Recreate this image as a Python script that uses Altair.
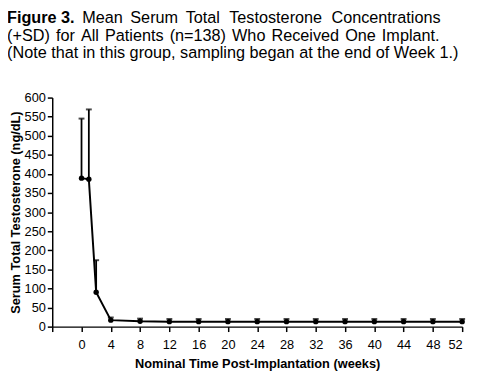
import altair as alt
import pandas as pd

weeks = [0, 1, 2, 4, 8, 12, 16, 20, 24, 28, 32, 36, 40, 44, 48, 52]
mean_t = [389, 386, 90, 17, 14, 13, 13, 13, 13, 13, 13, 13, 13, 13, 13, 13]
sd_top = [545, 569, 174, 24, 21, 20, 20, 20, 20, 20, 20, 20, 20, 20, 20, 20]

x_ticks = [-4, 0, 4, 8, 12, 16, 20, 24, 28, 32, 36, 40, 44, 48, 52]
y_ticks = [0, 50, 100, 150, 200, 250, 300, 350, 400, 450, 500, 550, 600]

# title words (the first two lines are justified in the original)
line1_words = ["Figure 3.", "Mean", "Serum", "Total", "Testosterone", "Concentrations"]
line2_words = ["(+SD)", "for", "All", "Patients", "(n=138)", "Who", "Received", "One", "Implant."]
line3_text = "(Note that in this group, sampling began at the end of Week 1.)"

df = pd.DataFrame({"week": weeks, "mean": mean_t, "top": sd_top})

FONT = "Liberation Sans"
FS = 16.5

# approximate Arial/Liberation Sans advance widths (per 1000 em)
REG = {" ": 278, "(": 333, ")": 333, "+": 584, "=": 584, ".": 278, "1": 556, "3": 556,
       "8": 556, "A": 667, "C": 722, "D": 722, "I": 278, "M": 833, "O": 778, "P": 667,
       "R": 722, "S": 667, "T": 611, "W": 944, "a": 556, "c": 500, "d": 556, "e": 556,
       "f": 278, "i": 222, "l": 222, "m": 833, "n": 556, "o": 556, "p": 556, "r": 333,
       "s": 500, "t": 278, "u": 556, "v": 500, "h": 556, "g": 556}
BOLD = {"F": 611, "i": 278, "g": 611, "u": 611, "r": 389, "e": 556, " ": 278, "3": 556, ".": 278}


def width(s, bold=False):
    tbl = BOLD if bold else REG
    return sum(tbl.get(c, 556) for c in s) * FS / 1000.0


def justify(words, x0, x1, bold_first=False):
    ws = [width(w, bold=(bold_first and i == 0)) for i, w in enumerate(words)]
    gap = (x1 - x0 - sum(ws)) / (len(words) - 1)
    xs_, x = [], x0
    for w in ws:
        xs_.append(x)
        x += w + gap
    return xs_


xs = alt.Scale(domain=[-4, 52], nice=False, zero=False)
ys = alt.Scale(domain=[0, 600], nice=False)

base = alt.Chart(df)

x_axis = alt.Axis(
    values=x_ticks, title="Nominal Time Post-Implantation (weeks)",
    labelExpr="datum.value < 0 ? '' : datum.label", labelOverlap=False,
    tickSize=5, labelPadding=7, titlePadding=7,
)
y_axis = alt.Axis(
    values=y_ticks, title="Serum Total Testosterone (ng/dL)", labelOverlap=False,
    tickSize=5, labelPadding=2, titlePadding=2,
)

X = alt.X("week:Q", scale=xs, axis=x_axis)
Y = alt.Y("mean:Q", scale=ys, axis=y_axis)

err = base.mark_rule(color="black", strokeWidth=1.8).encode(x=X, y=Y, y2="top:Q")
cap = base.mark_tick(color="black", thickness=2, size=6, orient="horizontal").encode(
    x=X, y=alt.Y("top:Q", scale=ys, axis=y_axis))
line = base.mark_line(color="black", strokeWidth=2).encode(x=X, y=Y)
pts = base.mark_circle(color="black", size=30, opacity=1).encode(x=X, y=Y)

PLOT_LEFT = 53
PLOT_TOP = 96


def txt(s, x_page, y_page, bold=False):
    return alt.Chart(pd.DataFrame({"t": [s]})).mark_text(
        align="left", baseline="alphabetic", font=FONT, fontSize=FS,
        fontWeight="bold" if bold else "normal", color="black",
    ).encode(text="t:N", x=alt.value(x_page - PLOT_LEFT), y=alt.value(y_page - PLOT_TOP))


l1_x = justify(line1_words, 7, 448, bold_first=True)
l2_x = justify(line2_words, 7, 447)

texts = []
for i, w in enumerate(line1_words):
    texts.append(txt(w, l1_x[i], 20, bold=(i == 0)))
for i, w in enumerate(line2_words):
    texts.append(txt(w, l2_x[i], 38))
texts.append(txt(line3_text, 7, 56))

chart = alt.layer(err, cap, line, pts, *texts).properties(
    width=417, height=233,
    background="white",
    autosize=alt.AutoSizeParams(type="none"),
    padding={"left": 45, "top": 88, "right": 10, "bottom": 42},
).configure_view(stroke=None).configure_axis(
    grid=False, domainColor="black", domainWidth=1.5, tickColor="black",
    tickWidth=1.5, labelFontSize=13, labelFont=FONT, labelColor="black",
    titleFont=FONT, titleFontSize=13, titleFontWeight="bold", titleColor="black",
)

chart.save("out.html", embed_options={"renderer": "svg", "actions": False})
